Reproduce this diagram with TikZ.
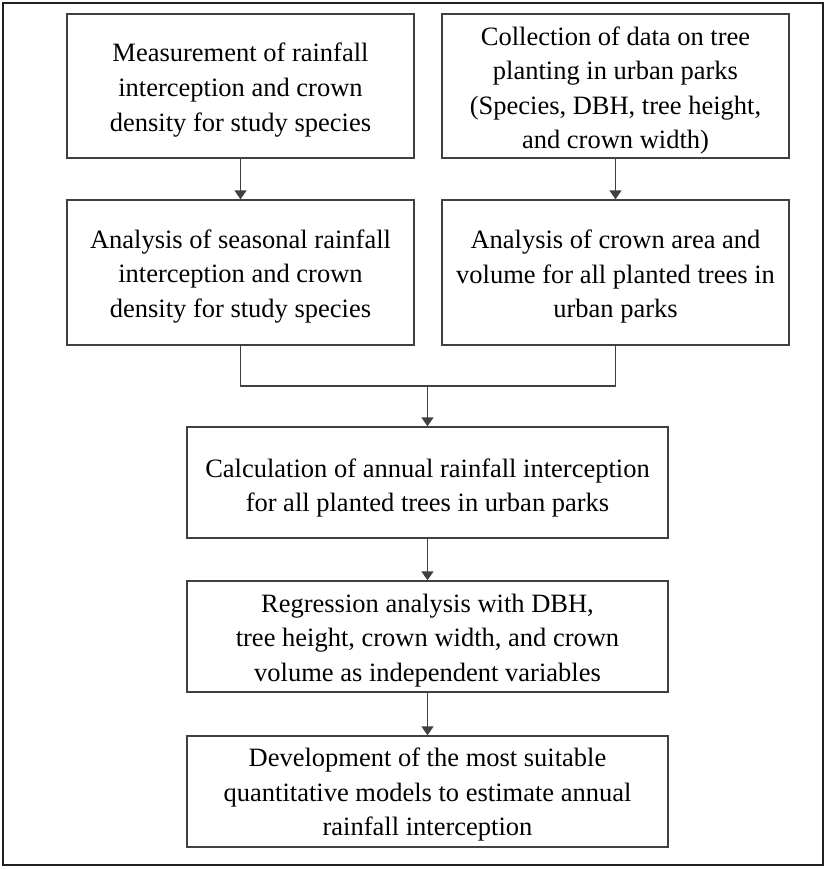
\documentclass[tikz,border=0pt]{standalone}
\usepackage{fontspec}
\setmainfont{Liberation Serif}
\usetikzlibrary{arrows.meta}
\definecolor{boxline}{HTML}{404040}
\definecolor{frameline}{HTML}{202020}
\tikzset{
  procbox/.style={draw=boxline, line width=1.4pt, fill=white, inner sep=0pt},
  boxtext/.style={inner sep=0pt, align=center, font=\fontsize{26.5}{34.6}\selectfont},
  link/.style={draw=boxline, line width=1.4pt},
  arr/.style={link, -{Triangle[width=12pt,length=9pt]}}
}
\begin{document}
\begin{tikzpicture}[x=1pt,y=-1pt]
\useasboundingbox (0,0) rectangle (827,869);
\draw[draw=frameline, line width=2pt] (3,3) rectangle (823,865);
\node[procbox, minimum width=347pt, minimum height=144pt,
  label={[boxtext, yshift=-4pt]center:{Measurement of rainfall\\interception and crown\\density for study species}}] (b1) at (240.5,86) {};
\node[procbox, minimum width=347pt, minimum height=144pt,
  label={[boxtext, yshift=-4.5pt]center:{Collection of data on tree\\planting in urban parks\\(Species, DBH, tree height,\\and crown width)}}] (b2) at (615.5,86) {};
\node[procbox, minimum width=347pt, minimum height=145pt,
  label={[boxtext, yshift=-4pt]center:{Analysis of seasonal rainfall\\interception and crown\\density for study species}}] (b3) at (240.5,272.5) {};
\node[procbox, minimum width=347pt, minimum height=145pt,
  label={[boxtext, yshift=-4pt]center:{Analysis of crown area and\\volume for all planted trees in\\urban parks}}] (b4) at (615.5,272.5) {};
\node[procbox, minimum width=481pt, minimum height=111pt,
  label={[boxtext, yshift=-5.5pt]center:{Calculation of annual rainfall interception\\for all planted trees in urban parks}}] (b5) at (427.5,482.5) {};
\node[procbox, minimum width=481pt, minimum height=111pt,
  label={[boxtext, yshift=-4pt]center:{Regression analysis with DBH,\\tree height, crown width, and crown\\volume as independent variables}}] (b6) at (427.5,636.5) {};
\node[procbox, minimum width=481pt, minimum height=111pt,
  label={[boxtext, yshift=-3pt]center:{Development of the most suitable\\quantitative models to estimate annual\\rainfall interception}}] (b7) at (427.5,791.5) {};
\coordinate (j) at (b5.north |- 0,386);
\draw[arr] (b1.south) -- (b3.north);
\draw[arr] (b2.south) -- (b4.north);
\draw[link] (b3.south) |- (j);
\draw[link] (b4.south) |- (j);
\draw[arr] (j) -- (b5.north);
\draw[arr] (b5.south) -- (b6.north);
\draw[arr] (b6.south) -- (b7.north);
\end{tikzpicture}
\end{document}
